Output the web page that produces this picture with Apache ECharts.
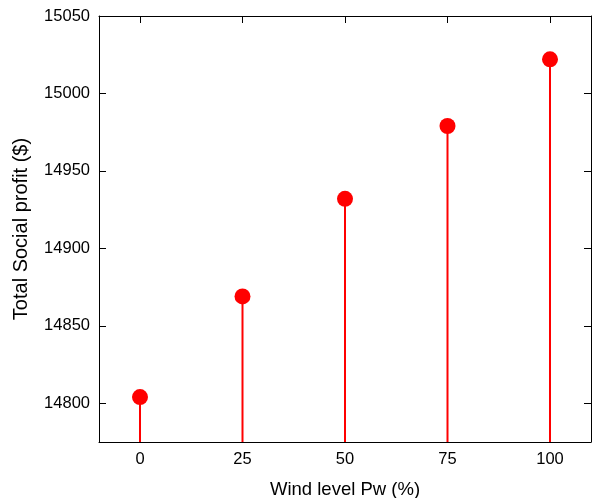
<!DOCTYPE html>
<html><head><meta charset="utf-8">
<script src="https://cdn.jsdelivr.net/npm/echarts@6/dist/echarts.min.js"></script>
<style>html,body{margin:0;padding:0;background:#fff}#c{width:593px;height:498px}</style>
</head><body><div id="c"></div>
<script>
var windLevels = [0, 25, 50, 75, 100];
var profits = [14804, 14869, 14932, 14979, 15022];
var xTicks = [0, 25, 50, 75, 100];
var yTicks = [14800, 14850, 14900, 14950, 15000, 15050];
var yMin = 14775, yMax = 15050, xMin = -10, xMax = 110;

var pts = windLevels.map(function (x, i) { return [x, profits[i]]; });
var font = 'Liberation Sans, Arial, sans-serif';
function fmt(v) { return String(v); }
function xAx(pos, show) {
  return {
    type: 'value', position: pos, min: xMin, max: xMax,
    axisLine: { show: true, onZero: false, lineStyle: { color: '#000', width: 1 } },
    axisTick: { show: true, inside: true, length: 7, customValues: xTicks, lineStyle: { color: '#000' } },
    axisLabel: { show: show, customValues: xTicks, formatter: fmt, color: '#000', fontSize: 16.5, fontFamily: font, margin: 9 },
    splitLine: { show: false },
    name: show ? 'Wind level Pw (%)' : '', nameLocation: 'middle', nameGap: 38,
    nameTextStyle: { color: '#000', fontSize: 18.5, fontFamily: font }
  };
}
function yAx(pos, show) {
  return {
    type: 'value', position: pos, min: yMin, max: yMax,
    axisLine: { show: true, onZero: false, lineStyle: { color: '#000', width: 1 } },
    axisTick: { show: true, inside: true, length: 7, customValues: yTicks, lineStyle: { color: '#000' } },
    axisLabel: { show: show, customValues: yTicks, formatter: fmt, color: '#000', fontSize: 16.5, fontFamily: font, margin: 9 },
    splitLine: { show: false },
    name: show ? 'Total Social profit ($)' : '', nameLocation: 'middle', nameGap: 68,
    nameTextStyle: { color: '#000', fontSize: 20, fontFamily: font }
  };
}
var chart = echarts.init(document.getElementById('c'), null, { renderer: 'canvas' });
chart.setOption({
  animation: false,
  backgroundColor: '#fff',
  grid: { left: 99, top: 16, right: 2, bottom: 56, containLabel: false, outerBoundsMode: 'none' },
  xAxis: [xAx('bottom', true), xAx('top', false)],
  yAxis: [yAx('left', true), yAx('right', false)],
  series: [
    {
      type: 'custom', xAxisIndex: 0, yAxisIndex: 0, data: pts, z: 2,
      renderItem: function (params, api) {
        var top = api.coord([api.value(0), api.value(1)]);
        var bot = api.coord([api.value(0), yMin]);
        return { type: 'line', shape: { x1: top[0], y1: top[1], x2: bot[0], y2: bot[1] },
          style: { stroke: '#ff0000', lineWidth: 2 } };
      }
    },
    {
      type: 'scatter', xAxisIndex: 0, yAxisIndex: 0, data: pts, symbol: 'circle', symbolSize: 16, z: 3,
      itemStyle: { color: '#ff0000', opacity: 1 }
    }
  ]
});
</script></body></html>
